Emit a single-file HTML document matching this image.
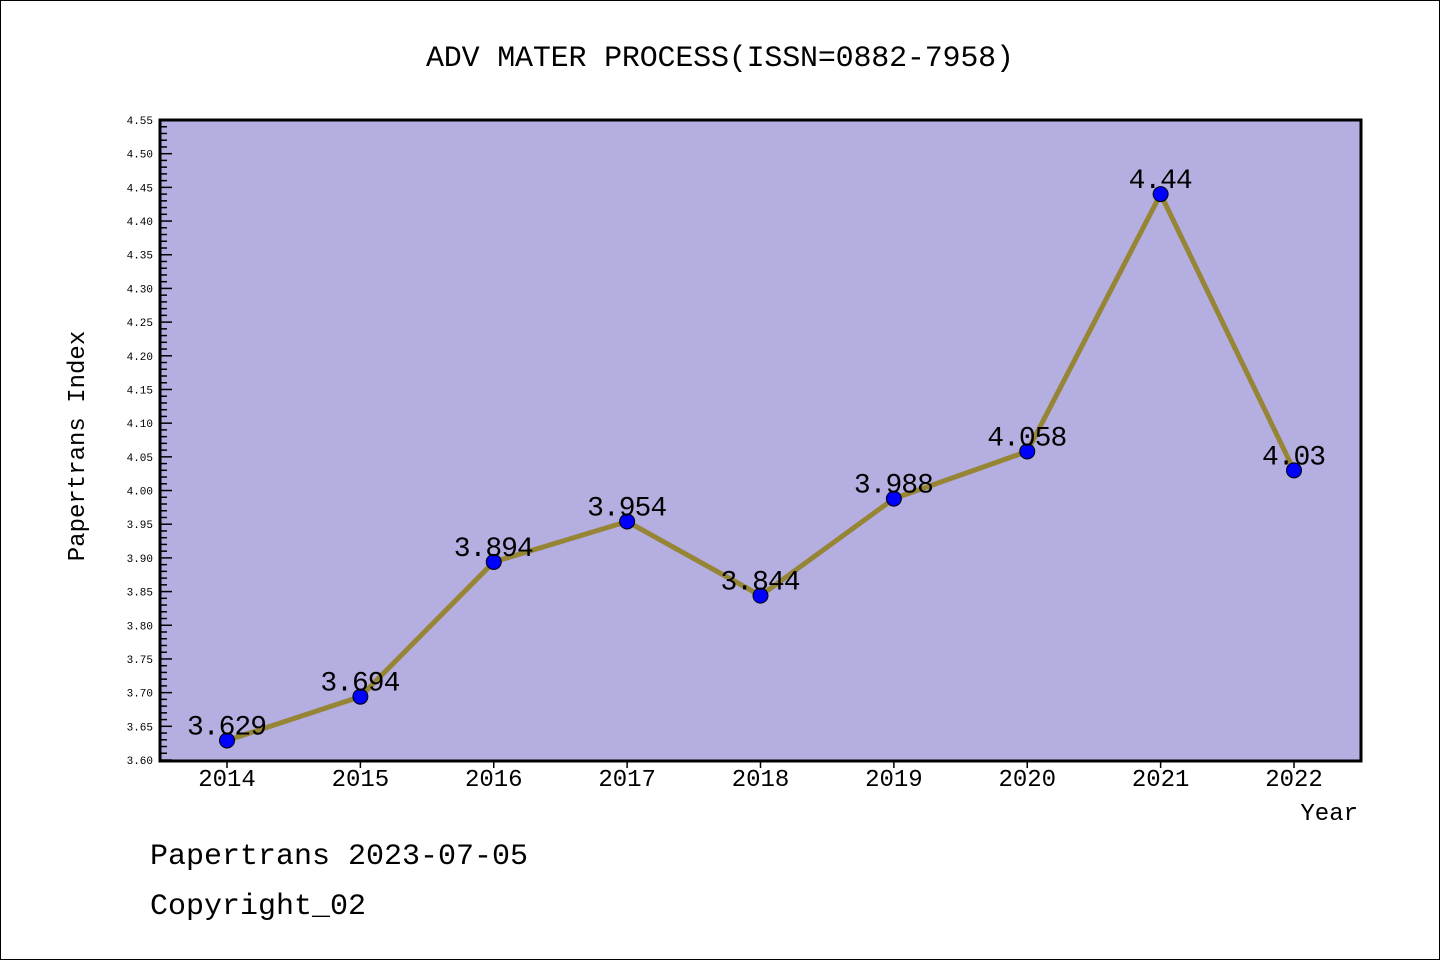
<!DOCTYPE html>
<html><head><meta charset="utf-8"><style>
body{margin:0;background:#fff}
svg{display:block}
text{font-family:"Liberation Mono","DejaVu Sans Mono",monospace}
</style></head><body>
<svg width="1440" height="960" id="c">
<rect x="0.5" y="0.5" width="1439" height="959" fill="#fff" stroke="#000"/>
<text x="720" y="66" font-size="30" text-anchor="middle" textLength="588">ADV MATER PROCESS(ISSN=0882-7958)</text>
<rect x="160" y="120" width="1201" height="641" fill="#b5aee0"/>
<g id="ticks"></g>
<g id="series"></g>
<rect x="160" y="120" width="1201" height="641" fill="none" stroke="#000" stroke-width="3"/>
<text transform="translate(84,446) rotate(-90)" font-size="24" text-anchor="middle">Papertrans Index</text>
<text x="1358" y="820" font-size="24" text-anchor="end">Year</text>
<text x="150" y="864" font-size="30">Papertrans 2023-07-05</text>
<text x="150" y="914" font-size="30">Copyright_02</text>
</svg>
<script>
const years=[2014,2015,2016,2017,2018,2019,2020,2021,2022];
const values=[3.629,3.694,3.894,3.954,3.844,3.988,4.058,4.44,4.03];
const valueLabels=["3.629","3.694","3.894","3.954","3.844","3.988","4.058","4.44","4.03"];
const yMin=3.60,yMax=4.55;
const NS="http://www.w3.org/2000/svg";
const xs=i=>227+i*(1294-227)/(years.length-1);
const ys=v=>760-(v-yMin)/(yMax-yMin)*640;
function mk(t,a,p){const e=document.createElementNS(NS,t);for(const k in a)e.setAttribute(k,a[k]);p.appendChild(e);return e;}
const tk=document.getElementById('ticks');
for(let k=0;k<=95;k++){
  const v=yMin+k*0.01,y=ys(v),major=k%5===0;
  const l=mk('line',{x1:160,x2:major?172:167,y1:y,y2:y,stroke:'#000','stroke-width':1.5},tk);
  
  
  if(major){const t=mk('text',{x:153,y:y+4,'font-size':11,'text-anchor':'end','font-family':'"DejaVu Sans",sans-serif'},tk);t.textContent=v.toFixed(2);
  
  }
}
years.forEach((yr,i)=>{
  const x=xs(i);
  const l=mk('line',{x1:x,x2:x,y1:761,y2:768,stroke:'#000','stroke-width':1.5},tk);
  
  
  const t=mk('text',{x:x,y:786,'font-size':24,'text-anchor':'middle','font-family':'"Liberation Sans",sans-serif'},tk);t.textContent=yr;
  
  
});
const sg=document.getElementById('series');
const pl=mk('polyline',{points:values.map((v,i)=>xs(i)+','+ys(v)).join(' '),fill:'none',stroke:'#958535','stroke-width':5},sg);


values.forEach((v,i)=>{
  const c=mk('circle',{cx:xs(i),cy:ys(v),r:7.5,fill:'#0000ff',stroke:'#000','stroke-width':1},sg);
  
  
  const s=valueLabels[i];
  const t=mk('text',{x:xs(i),y:ys(v)-6,'font-size':28,'text-anchor':'middle','font-family':'"Liberation Sans",sans-serif',textLength:s.length*16,lengthAdjust:'spacing'},sg);t.textContent=s;
  
  
});
</script>
</body></html>
